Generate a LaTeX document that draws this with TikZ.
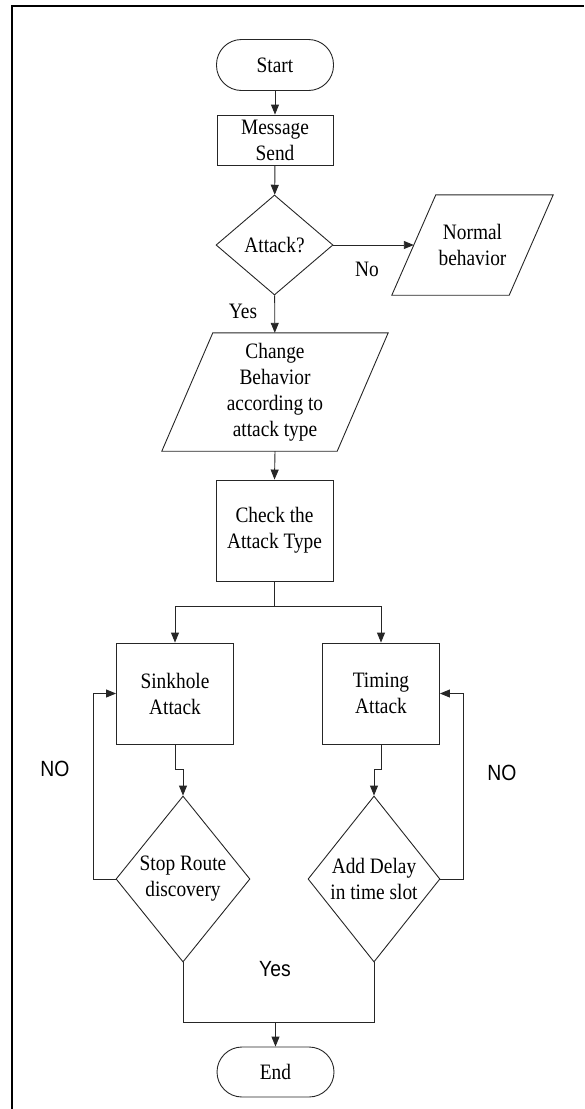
\documentclass[tikz,border=0pt]{standalone}
\usepackage{fontspec}
\setmainfont{Liberation Serif}[FakeStretch=0.88]
\setsansfont{Liberation Sans}[FakeStretch=0.88]
\usetikzlibrary{arrows.meta,shapes.geometric}
\begin{document}
\begin{tikzpicture}[x=1pt,y=-1pt,
  every node/.style={font=\fontsize{22}{26}\selectfont, align=center, inner sep=0pt},
  ln/.style={line width=0.9pt, draw=black!85},
  arr/.style={ln, -{Triangle[length=10pt,width=8pt]}},
  term/.style={ln, draw, rounded corners=25pt, minimum width=117pt, minimum height=51pt},
  procbox/.style={ln, draw, minimum width=117pt, minimum height=101pt},
  dec/.style={ln, draw, shape=diamond},
  io/.style={minimum height=#1},
  lbl/.style={font=\sffamily\fontsize{22}{26}\selectfont}
]
\useasboundingbox (0,0) rectangle (584,1109);
\draw[line width=2pt] (12,1109) -- (12,5.7) -- (584,5.7);

\node[term] (start) at (275,65) {Start};
\node[ln, draw, minimum width=116pt, minimum height=50pt] (msg) at (275,140) {Message\\Send};
\node[dec, aspect=1.17, minimum width=117pt, minimum height=100pt] (att) at (274.5,245) {Attack?};
\node[minimum width=117pt, minimum height=100pt] (nb) at (472.5,245) {Normal\\behavior};
\draw[ln] ([xshift=22pt]nb.north west) -- ([xshift=22pt]nb.north east) -- ([xshift=-22pt]nb.south east) -- ([xshift=-22pt]nb.south west) -- cycle;
\node[minimum width=175pt, minimum height=118pt] (cb) at (275,392) {Change\\Behavior\\according to\\attack type};
\draw[ln] ([xshift=25.5pt]cb.north west) -- ([xshift=25.5pt]cb.north east) -- ([xshift=-25.5pt]cb.south east) -- ([xshift=-25.5pt]cb.south west) -- cycle;
\node[procbox] (chk) at (274.5,530.5) {Check the\\Attack Type};
\node[procbox] (sink) at (175,693.5) {Sinkhole\\Attack};
\node[procbox] (tim) at (381,693.5) {Timing\\Attack};
\node[dec, aspect=0.81, minimum width=134pt, minimum height=166pt] (sd) at (183,879) {Stop Route\\discovery};
\node[dec, aspect=0.8, minimum width=132pt, minimum height=166pt] (td) at (374,879) {Add Delay\\in time slot};
\node[term, minimum height=50pt] (end) at (275.5,1072) {End};

\coordinate (sp) at (274.5,606);
\coordinate (mg) at (275.5,1022);
\coordinate (sj) at (175,769);
\coordinate (tj) at (381,769);

\draw[arr] (start) -- (msg);
\draw[arr] (msg) -- (att);
\draw[arr] (att) -- (nb);
\draw[arr] (att) -- (cb);
\draw[arr] (cb.south) -- (chk.north);
\draw[ln] (chk.south) -- (sp);
\draw[arr] (sp) -| (sink.north);
\draw[arr] (sp) -| (tim.north);
\draw[arr] (sink.south) -- (sj) -| (sd.north);
\draw[arr] (tim.south) -- (tj) -| (td.north);
\draw[arr] (sd.west) -- ++(-22,0) |- (sink.west);
\draw[arr] (td.east) -- ++(23,0) |- (tim.east);
\draw[ln] (sd.south) |- (mg);
\draw[ln] (td.south) |- (mg);
\draw[arr] (mg) -- (end);

\node (no1) at (367,269) {No};
\node (yes1) at (243,311) {Yes};
\node[lbl] (no2) at (55,769) {NO};
\node[lbl] (no3) at (502,773) {NO};
\node[lbl] (yes2) at (275,969) {Yes};
\end{tikzpicture}
\end{document}
